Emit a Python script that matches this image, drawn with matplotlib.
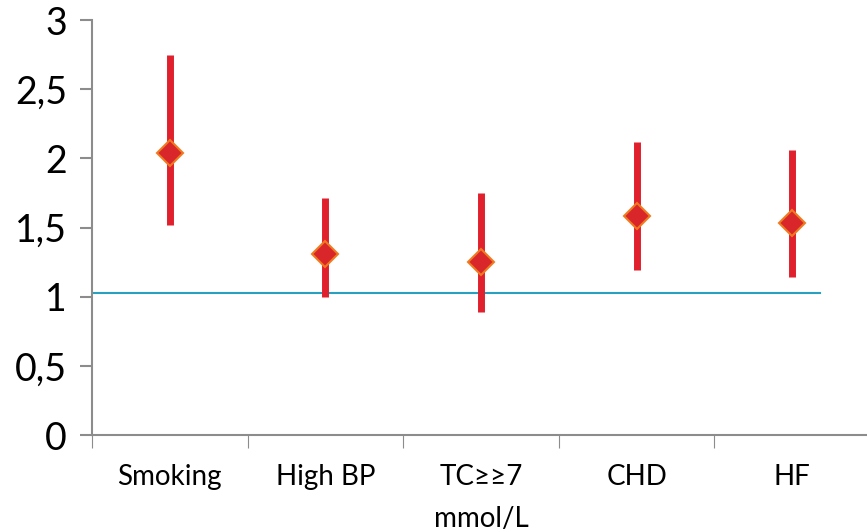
import matplotlib.pyplot as plt

categories = ["Smoking", "High BP", "TC≥≥7\nmmol/L", "CHD", "HF"]
estimate = [2.04, 1.31, 1.25, 1.58, 1.53]
lower = [1.52, 1.00, 0.89, 1.19, 1.14]
upper = [2.75, 1.71, 1.75, 2.12, 2.06]
ref_value = 1.03
y_ticks = [0, 0.5, 1, 1.5, 2, 2.5, 3]
y_labels = ["0", "0,5", "1", "1,5", "2", "2,5", "3"]

plt.rcParams['font.family'] = ['Lato', 'DejaVu Sans']

fig = plt.figure(figsize=(8.67, 5.31), dpi=100)
ax = fig.add_axes([92/867, 1-435/531, 778/867, 415/531])

x = list(range(len(categories)))
ax.vlines(x, lower, upper, color="#e0202c", lw=5, zorder=2)
ax.plot(x, estimate, ls="none", marker="D", ms=13, mfc="#d9262a",
        mec="#f07a20", mew=1.5, zorder=3)
ax.plot([-0.5, 4.18], [ref_value, ref_value], color="#2aa0c0", lw=1.5, zorder=1)

ax.set_xlim(-0.5, 4.5)
ax.set_ylim(0, 3)
ax.set_yticks(y_ticks)
ax.set_yticklabels(y_labels, fontsize=27)
ax.set_xticks([i - 0.5 for i in range(6)])
ax.set_xticklabels([])
ax.set_xticks(x, minor=True)
ax.set_xticklabels(categories, minor=True, fontsize=20, linespacing=1.75, va="top")
ax.tick_params(axis="x", which="minor", length=0, pad=21)
ax.tick_params(axis="x", which="major", length=9, color="#8c8c8c", direction="out")
ax.tick_params(axis="y", length=9, width=1.5, color="#8c8c8c", pad=9)

for s in ["top", "right"]:
    ax.spines[s].set_visible(False)
for s in ["left", "bottom"]:
    ax.spines[s].set_color("#8c8c8c")
    ax.spines[s].set_linewidth(1.5)

fig.savefig("out.png", dpi=100)
